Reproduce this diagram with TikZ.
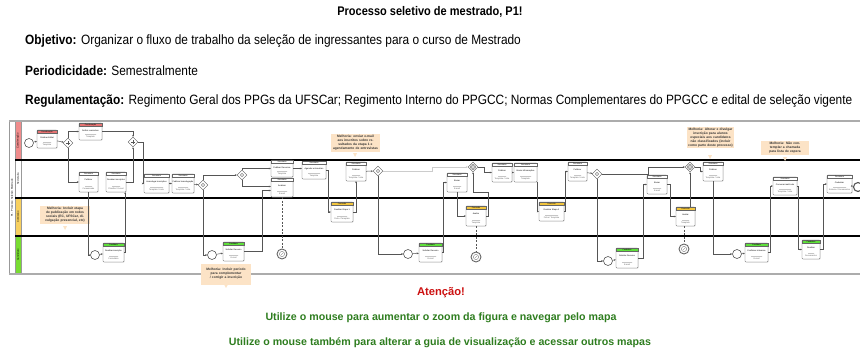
\documentclass[tikz,border=0pt]{standalone}
\usepackage{fontspec}
\setmainfont{Liberation Sans}
\newfontfamily\narrowfont[FakeStretch=0.88]{Liberation Sans}
\usetikzlibrary{shapes.geometric,arrows.meta,calc,shadows}
\definecolor{laneR}{HTML}{F08C8C}
\definecolor{laneY}{HTML}{F7D060}
\definecolor{laneG}{HTML}{78DC32}
\definecolor{hdrR}{HTML}{E67373}
\definecolor{hdrY}{HTML}{F2C53D}
\definecolor{hdrG}{HTML}{5EE03A}
\definecolor{notefill}{HTML}{FCE3C6}
\definecolor{flowc}{HTML}{555555}
\definecolor{taskborder}{HTML}{666666}
\definecolor{attred}{HTML}{CC1111}
\definecolor{attgreen}{HTML}{2E7D1F}
\newcommand\bptask[9]{%
  \node[taskbox, minimum width={(#4-#2)*1pt}, minimum height={(#5-#3)*1pt}] (#1) at ({(#2+#4)/2},{(#3+#5)/2}) {};
  \filldraw[fill=#6, draw=taskborder, line width=0.3pt] (#2,#3) rectangle (#4,{#3+3.6});
  \node[hdrtext] at ({(#2+#4)/2},{#3+1.8}) {#7};
  \node[bodytext] at ({(#2+#4)/2},{#3+7.6}) {#8};
  \draw[gray!45, line width=0.2pt, dash pattern=on 0.4pt off 0.6pt] ({#2+6},{#5-6.2}) -- ({#4-6},{#5-6.2});
  \node[bodytext, text=gray!75!black] at ({(#2+#4)/2},{#5-3.2}) {#9};
}
\begin{document}
\begin{tikzpicture}[x=1pt,y=-1pt,
  taskbox/.style={draw=taskborder, fill=white, rounded corners=0.8pt, line width=0.35pt, inner sep=0pt,
     drop shadow={shadow xshift=0.6pt, shadow yshift=-0.6pt, opacity=0.25}},
  hdrtext/.style={font=\fontsize{1.9}{2}\selectfont, inner sep=0pt},
  bodytext/.style={font=\fontsize{2.1}{2.4}\selectfont, inner sep=0pt, align=center},
  gw/.style={diamond, aspect=1, draw=flowc, fill=white, line width=0.4pt, minimum width=10pt, minimum height=10pt, inner sep=0pt},
  gwplus/.style={gw, path picture={\draw[flowc, line width=0.5pt] ([xshift=-1.8pt]path picture bounding box.center) -- ([xshift=1.8pt]path picture bounding box.center) ([yshift=-1.8pt]path picture bounding box.center) -- ([yshift=1.8pt]path picture bounding box.center);}},
  gwcirc/.style={gw, path picture={\draw[flowc, line width=0.4pt] (path picture bounding box.center) circle (1.7pt);}},
  gwdia/.style={gw, path picture={\draw[flowc, line width=0.3pt] (path picture bounding box.center) circle (2.6pt); \draw[flowc, line width=0.3pt] ([yshift=1.6pt]path picture bounding box.center) -- ([xshift=1.6pt]path picture bounding box.center) -- ([yshift=-1.6pt]path picture bounding box.center) -- ([xshift=-1.6pt]path picture bounding box.center) -- cycle;}},
  startev/.style={circle, draw=flowc, fill=white, line width=0.6pt, minimum size=9pt, inner sep=0pt},
  timerev/.style={circle, draw=gray!80!black, fill=white, line width=0.9pt, minimum size=10pt, inner sep=0pt,
     path picture={\draw[gray!80!black, line width=0.3pt] (path picture bounding box.center) circle (2.6pt); \draw[gray!80!black, line width=0.3pt] ([xshift=-1pt,yshift=-1pt]path picture bounding box.center) -- (path picture bounding box.center) -- ([xshift=1.3pt,yshift=1.3pt]path picture bounding box.center);}},
  flow/.style={draw=flowc, line width=0.5pt, -{Stealth[length=2pt,width=1.8pt]}},
  faintflow/.style={draw=gray!40, line width=0.5pt, -{Stealth[length=2pt,width=1.8pt]}},
  assoc/.style={draw=flowc, line width=0.5pt, dashed, dash pattern=on 2pt off 1.5pt},
  note/.style={fill=notefill, inner sep=1pt, align=center, font=\fontsize{3.3}{4.1}\selectfont\bfseries, text=black!80},
  lanelbl/.style={rotate=90, font=\fontsize{2.6}{3}\selectfont, inner sep=0pt},
  toptext/.style={anchor=west, font=\narrowfont\fontsize{13.5}{15}\selectfont, inner sep=0pt},
  bottomtext/.style={font=\fontsize{10.65}{12}\selectfont\bfseries, inner sep=0pt, text=attgreen}
]
\useasboundingbox (0,0) rectangle (860,353);
% ---------- header texts ----------
\node[font=\narrowfont\bfseries\fontsize{12.5}{14}\selectfont, inner sep=0pt] (title) at (430,12) {Processo seletivo de mestrado, P1!};
\node[toptext] (obj) at (25,41) {\textbf{Objetivo:} Organizar o fluxo de trabalho da seleção de ingressantes para o curso de Mestrado};
\node[toptext] (per) at (25,71) {\textbf{Periodicidade:} Semestralmente};
\node[toptext] (reg) at (25,101) {\textbf{Regulamentação:} Regimento Geral dos PPGs da UFSCar; Regimento Interno do PPGCC; Normas Complementares do PPGCC e edital de seleção vigente};
% ---------- pool and lanes ----------
\fill[laneR] (15,122) rectangle (21,160);
\fill[laneY] (15,198) rectangle (21,236);
\fill[laneG] (15,236) rectangle (21,274);
\draw[gray!80, line width=0.4pt] (9,121) -- (9,274) (15,121) -- (15,274) (21,121) -- (21,274);
\node[lanelbl] (pool) at (12,198) {P1 - Processo Seletivo Mestrado};
\node[lanelbl] (l1) at (18,141) {Coordenação};
\node[lanelbl] (l2) at (18,179) {Secretaria};
\node[lanelbl] (l3) at (18,217) {Comissão};
\node[lanelbl] (l4) at (18,255) {Candidato};
\draw[gray!65, line width=2pt] (9,121) -- (860,121);
\draw[gray!65, line width=2pt] (9,274) -- (860,274);
\draw[black, line width=1.3pt] (15,160) -- (860,160) (15,198) -- (860,198) (15,236) -- (860,236);
% ---------- notes ----------
\node[note, text width=48pt] (n1) at (65,215) {Melhoria: Incluir etapa de publicação em redes sociais (EC, UFSCar, divulgação presencial, etc)};
\fill[notefill] (63,226) -- (67,226) -- (65,230) -- cycle;
\node[note, text width=47pt] (n2) at (355.5,143) {Melhoria: enviar e-mail aos inscritos sobre resultados da etapa 1 e agendamento de entrevistas};
\fill[notefill] (353,153) -- (357,153) -- (355,157) -- cycle;
% ---------- lane 1: Coordenação ----------
\node[startev] (s1) at (29,143) {};
\bptask{t1}{37}{130}{57}{148}{hdrR}{Coordenação}{Publicar Edital}{Template}
\node[gwplus] (g1) at (68,143) {};
\bptask{t2}{79}{123}{102}{140}{hdrR}{Coordenação}{Definir comissões}{Template}
\node[gwplus] (g2) at (133,142) {};
% ---------- lane 2: Secretaria ----------
\bptask{t3}{79}{172}{98}{192}{white}{Secretaria}{Publicar}{Comunicado}
\bptask{t4}{106}{172}{126}{192}{white}{Secretaria}{Receber inscrições}{Planilha / E-mail}
\bptask{t5}{144}{174}{169}{193}{white}{Secretaria}{Homologar inscrições}{Template / Lista}
\bptask{t6}{172}{174}{194}{193}{white}{Secretaria}{Publicar homologação}{Template / Lista}
\node[gwcirc] (g3) at (203,185) {};
\node[gwcirc] (g4) at (242,175) {};
\bptask{t7}{271}{160}{293}{177}{white}{Secretaria}{Publicar Recursos}{Template}
\bptask{t8}{271}{178}{293}{197}{white}{Secretaria}{Analisar}{E-mail}
\bptask{t9}{302}{161}{326}{179}{white}{Secretaria}{Agendar entrevistas}{Template}
\bptask{t11}{346}{162}{366}{181}{white}{Secretaria}{Publicar}{Template / Lista}
\node[gwcirc] (g5) at (378,171) {};
\node[gwdia] (g6) at (473,167) {};
\bptask{t12}{447}{173}{467}{192}{white}{Secretaria}{Enviar}{E-mail}
\bptask{t14}{492}{163}{512}{182}{white}{Secretaria}{Publicar}{Template / Lista}
\bptask{t15}{514}{163}{537}{182}{white}{Secretaria}{Enviar informações}{Template}
\bptask{t17}{568}{162}{587}{181}{white}{Secretaria}{Publicar}{Template / Lista}
\node[gwcirc] (g7) at (597,174) {};
\bptask{t18}{647}{175}{667}{194}{white}{Secretaria}{Enviar}{E-mail}
\node[gwdia] (g8) at (690,167) {};
\bptask{t20}{703}{162}{723}{181}{white}{Secretaria}{Publicar}{Template / Lista}
\bptask{t21}{773}{177}{797}{195}{white}{Secretaria}{Convocar matrícula}{Template / Lista}
\bptask{t22}{827}{175}{852}{193}{white}{Secretaria}{Cadastrar}{Sistema / Documentos}
\node[startev, line width=1.1pt] (endev) at (858,187) {};
% ---------- lane 3: Comissão ----------
\bptask{t10}{331}{202}{353}{222}{hdrY}{Comissão}{Realizar Etapa 1}{Ficha / Template}
\bptask{t13}{466}{206}{486}{226}{hdrY}{Comissão}{Avaliar}{Template}
\bptask{t16}{539}{202}{564}{221}{hdrY}{Comissão}{Realizar Etapa 2}{Ficha / Template}
\bptask{t19}{676}{207}{695}{226}{hdrY}{Comissão}{Avaliar}{Template}
% ---------- lane 4: Candidato ----------
\node[startev] (c1) at (95,255) {};
\bptask{tc1}{103}{243}{124}{262}{hdrG}{Candidato}{Realizar inscrição}{Formulário}
\node[startev] (c2) at (212,255) {};
\bptask{tc2}{223}{242}{244}{261}{hdrG}{Candidato}{Solicitar Recurso}{E-mail}
\node[timerev] (e1) at (282,254) {};
\node[startev] (c3) at (408,254) {};
\bptask{tc3}{419}{243}{442}{262}{hdrG}{Candidato}{Solicitar Recurso}{E-mail}
\node[timerev] (e2) at (476,257) {};
\node[startev] (c4) at (608,261) {};
\bptask{tc4}{616}{248}{638}{268}{hdrG}{Candidato}{Solicitar Recurso}{E-mail}
\node[timerev] (e3) at (684,249) {};
\node[startev] (c5) at (737,254) {};
\bptask{tc5}{745}{243}{768}{262}{hdrG}{Candidato}{Confirmar interesse}{E-mail}
\bptask{tc6}{802}{240}{820}{259}{hdrG}{Candidato}{Realizar}{Documentos}
% ---------- notes over the pool ----------
\node[note, text width=48pt, minimum height=21pt] (n3) at (226,274) {Melhoria: Incluir período para complementar / corrigir a inscrição};
\fill[notefill] (224,284.4) -- (228,284.4) -- (226,288) -- cycle;
\node[note, text width=45pt] (n4) at (710.5,137.5) {Melhoria: Alterar e divulgar inscrição para alunos especiais aos candidatos não classificados (incluir como parte deste processo)};
\fill[notefill] (708,155) -- (712,155) -- (710,159) -- cycle;
\node[note, text width=46pt] (n5) at (785,148) {Melhoria: Não contemplar a chamada para lista de espera};
\fill[notefill] (783,157) -- (787,157) -- (785,161) -- cycle;
% ---------- connectors ----------
\draw[flow] (s1) -- (t1);
\draw[flow] (t1) -- (g1);
\draw[flow] (g1.north) |- (t2.west);
\draw[flow] (g1.south) |- (t3.west);
\draw[flow] (t2.east) -| (g2.north);
\draw[flow] (t3.south) |- (c1.west);
\draw[flow] (c1) -- (tc1);
\draw[flow] (tc1.east) -| ([xshift=-1pt]t4.south east);
\draw[flow] (t4.east) -| (g2.south);
\draw[flow] (g2.east) -- ++(5,0) |- (t5.west);
\draw[flow] (t5) -- (t6);
\draw[flow] (t6) -- (g3);
\draw[flow] (g3.south) |- (c2.west);
\draw[flow] (g3.north) |- (g4.west);
\draw[flow] (c2) -- (tc2);
\draw[flow] (tc2.east) -- ++(18,0) |- ([yshift=-3pt]t8.west);
\draw[flow] (g4.north) |- (t7.west);
\draw[flow] (g4.south) |- ([yshift=1pt]t8.west);
\draw[flow] (t7.east) -- (t7.east -| t9.west);
\draw[assoc] (t8.south) -- (e1.north);
\draw[flow] (t9.east) -- ++(2,0) |- (t10.west);
\draw[flow] (t10.east) -| (t11.south);
\draw[flow] (t11) -- (g5);
\draw[flow] (g5.south) |- (c3.west);
\draw[faintflow] (g5.east) -- ++(49,0) |- (g6.west);
\draw[flow] (c3) -- (tc3);
\draw[flow] (tc3.east) -- ++(1.5,0) |- (t12.west);
\draw[flow] (t12.south) |- (t13.west);
\draw[assoc] (t13.south) -- (e2.north);
\draw[flow] (t13.east) -- ++(2,0) -- ++(0,-24) -| (g6.south);
\draw[flow] (g6.east) -- ++(6,0) |- (t14.west);
\draw[flow] (t14) -- (t15);
\draw[flow] (t15.south east) |- (t16.west);
\draw[flow] (t16.east) -- ++(1.5,0) |- (t17.west);
\draw[flow] (t17) -- (g7);
\draw[flow] (g7.south) |- (c4.west);
\draw[flow] (g7.east) -- ++(46,0) |- (g8.west);
\draw[flow] (c4) -- (tc4);
\draw[flow] (tc4.east) -- ++(5,0) |- (t18.west);
\draw[flow] (t18.east) -- ++(3,0) |- (t19.west);
\draw[flow] (t19.north -| g8.south) -- (g8.south);
\draw[assoc] (t19.south -| e3.north) -- (e3.north);
\draw[flow] (g8.east) -- ++(5,0) |- (t20.west);
\draw[flow] (t20.south) |- (c5.west);
\draw[flow] (c5) -- (tc5);
\draw[flow] (tc5.east) -- ++(2,0) |- (t21.west);
\draw[flow] (t21.east) -- ++(1,0) |- (tc6.west);
\draw[flow] (tc6.east) -- ++(3,0) |- (t22.west);
\draw[flow] (t22) -- (endev);
% ---------- bottom texts ----------
\node[font=\fontsize{11.2}{12}\selectfont\bfseries, text=attred, inner sep=0pt] (att) at (441,293) {Atenção!};
\node[bottomtext] (u1) at (441,318) {Utilize o mouse para aumentar o zoom da figura e navegar pelo mapa};
\node[bottomtext] (u2) at (440,343) {Utilize o mouse também para alterar a guia de visualização e acessar outros mapas};
\end{tikzpicture}
\end{document}
